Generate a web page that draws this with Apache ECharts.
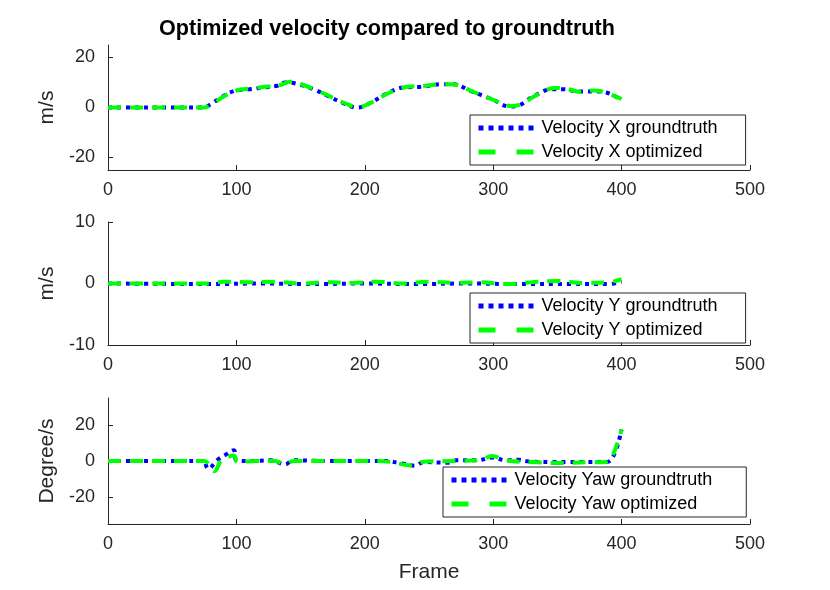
<!DOCTYPE html>
<html><head><meta charset="utf-8">
<script src="https://cdn.jsdelivr.net/npm/echarts@6/dist/echarts.min.js"></script>
<style>html,body{margin:0;padding:0;background:#fff}#c{width:830px;height:590px}</style>
</head><body><div id="c"></div>
<script>
// ---- data ----
var title = "Optimized velocity compared to groundtruth";
var xTicks = [0, 100, 200, 300, 400, 500];
var yTicks1 = [-20, 0, 20];
var yTicks2 = [-10, 0, 10];
var yTicks3 = [-20, 0, 20];

var vxGtFrames = [0, 20, 40, 60, 74, 80, 88, 99, 110, 121, 132, 138, 146, 160, 171, 182, 194, 205, 216, 230, 244, 260, 269, 282, 299, 313, 319, 332, 346, 355, 366, 380, 388, 399];
var vxGtValues = [0, 0, 0, 0, 0, 1.3, 4, 6.7, 7.3, 8, 8.7, 10, 9.6, 7.3, 4.7, 2, 0, 2, 5.3, 8, 8.3, 9.3, 9.3, 6.7, 3.3, 0.4, 0.7, 4.7, 7.3, 7.3, 6.4, 6.4, 6, 3.3];
var vxOptFrames = [0, 20, 40, 60, 75, 82, 90, 100, 112, 124, 134, 142, 150, 162, 173, 184, 195, 206, 218, 232, 246, 262, 270, 284, 300, 314, 320, 334, 348, 358, 368, 378, 386, 400];
var vxOptValues = [0, 0, 0, 0, 0, 1.6, 4.4, 6.8, 7.6, 8.4, 9, 10.3, 9.4, 7, 4.4, 1.8, 0.2, 2.2, 5.6, 8.2, 8.6, 9.4, 9.2, 6.4, 3.1, 0.6, 1, 5, 7.8, 7.4, 6.2, 6.8, 6.2, 3.4];

var vyGtFrames = [0, 40, 80, 120, 160, 200, 240, 280, 320, 360, 390, 400];
var vyGtValues = [0, -0.05, -0.1, 0, -0.1, 0, -0.1, 0, -0.1, -0.1, -0.1, 0.3];
var vyOptFrames = [0, 30, 60, 80, 90, 110, 130, 150, 170, 190, 210, 230, 250, 270, 290, 310, 330, 350, 370, 390, 400];
var vyOptValues = [0, 0, 0, 0, 0.3, 0.2, 0.3, 0, 0.2, 0.1, 0.3, 0, 0.3, 0.1, 0.2, -0.1, 0.2, 0.4, 0.1, 0.2, 0.7];

var vyawGtFrames = [0, 20, 40, 60, 74, 78, 85, 91, 98, 100, 110, 127, 138, 144, 170, 200, 216, 227, 239, 246, 266, 271, 288, 299, 310, 319, 327, 344, 388, 394, 400];
var vyawGtValues = [0, 0, 0, 0, 0, -4.3, 0.4, 3.2, 6, 0.4, 0, 0.4, -1.9, 0.4, 0, 0, 0, -1.1, -2.6, -0.6, -1, 0.4, 0.4, 1.9, 0.4, 0.7, -0.2, -0.6, -0.6, 3.2, 17.5];
var vyawOptFrames = [0, 20, 40, 60, 75, 79, 83, 88, 92, 98, 101, 115, 130, 137, 145, 170, 200, 220, 235, 248, 270, 290, 299, 310, 330, 350, 375, 388, 392, 400];
var vyawOptValues = [0, 0, 0, 0, 0, -2, -5.6, 0.4, 1.9, 3, -0.6, 0, 0, -1.5, 0, 0, 0, -0.5, -2.4, -0.3, 0, 0.5, 2.8, 0.3, -0.6, -1.1, -0.7, -0.5, 1.3, 17.5];

function pairs(f, v) { return f.map(function (x, i) { return [x, v[i]]; }); }

var FONT = "Liberation Sans";
var AX = "#262626";
var grids = [
  { left: 108, width: 642, top: 45, height: 125 },
  { left: 108, width: 642, top: 222, height: 123 },
  { left: 108, width: 642, top: 398, height: 126 }
];
var yRanges = [[-25, 25], [-10, 10], [-35, 35]];
var yTickSets = [yTicks1, yTicks2, yTicks3];
var yNames = ["m/s", "m/s", "Degree/s"];

function xAxis(i) {
  return {
    type: 'value', gridIndex: i, min: 0, max: 500, interval: 100,
    name: i === 2 ? 'Frame' : '', nameLocation: 'middle', nameGap: 38,
    nameTextStyle: { fontFamily: FONT, fontSize: 21, color: AX },
    axisLine: { show: true, onZero: false, lineStyle: { color: AX, width: 1 } },
    axisTick: { show: true, inside: true, length: 5, customValues: xTicks, lineStyle: { color: AX } },
    axisLabel: { fontFamily: FONT, fontSize: 18, color: AX, margin: 11, customValues: xTicks },
    splitLine: { show: false }
  };
}
function yAxis(i) {
  var r = yRanges[i];
  return {
    type: 'value', gridIndex: i, min: r[0], max: r[1],
    name: yNames[i], nameLocation: 'middle', nameRotate: 90, nameGap: 43,
    nameTextStyle: { fontFamily: FONT, fontSize: 21, color: AX },
    axisLine: { show: true, onZero: false, lineStyle: { color: AX, width: 1 } },
    axisTick: { show: true, inside: true, length: 5, customValues: yTickSets[i], lineStyle: { color: AX } },
    axisLabel: { fontFamily: FONT, fontSize: 18, color: AX, margin: 13, customValues: yTickSets[i] },
    splitLine: { show: false }
  };
}
function gtSeries(name, i, f, v) {
  return {
    name: name, type: 'line', xAxisIndex: i, yAxisIndex: i, data: pairs(f, v),
    smooth: 0.4, showSymbol: false, symbol: 'none',
    lineStyle: { color: '#0000ff', width: 4, type: [4, 5] },
    itemStyle: { color: '#0000ff' }, z: 2
  };
}
function optSeries(name, i, f, v) {
  return {
    name: name, type: 'line', xAxisIndex: i, yAxisIndex: i, data: pairs(f, v),
    smooth: 0.4, showSymbol: false, symbol: 'none',
    lineStyle: { color: '#00ff00', width: 4, type: [13, 9] },
    itemStyle: { color: '#00ff00' }, z: 3
  };
}
function legend(names, left, top, padRight) {
  return {
    data: [
      { name: names[0], lineStyle: { type: [5, 5], width: 5 } },
      { name: names[1], lineStyle: { type: [17, 21], width: 5 } }
    ],
    orient: 'vertical', left: left, top: top,
    padding: [4, padRight, 4, 6], itemGap: 6, itemWidth: 58, itemHeight: 16,
    borderColor: AX, borderWidth: 1, backgroundColor: '#fff',
    itemStyle: { opacity: 0 },
    textStyle: { fontFamily: FONT, fontSize: 18, color: '#000' },
    selectedMode: false
  };
}

var chart = echarts.init(document.getElementById('c'), null, { renderer: 'canvas' });
chart.setOption({
  animation: false,
  backgroundColor: '#fff',
  title: { text: title, left: 154, top: 13, textStyle: { fontFamily: FONT, fontSize: 21.6, fontWeight: 'bold', color: '#000' } },
  grid: grids,
  xAxis: [xAxis(0), xAxis(1), xAxis(2)],
  yAxis: [yAxis(0), yAxis(1), yAxis(2)],
  legend: [
    legend(['Velocity X groundtruth', 'Velocity X optimized'], 470, 115, 28),
    legend(['Velocity Y groundtruth', 'Velocity Y optimized'], 470, 293, 28),
    legend(['Velocity Yaw groundtruth', 'Velocity Yaw optimized'], 443, 467, 34)
  ],
  series: [
    gtSeries('Velocity X groundtruth', 0, vxGtFrames, vxGtValues),
    optSeries('Velocity X optimized', 0, vxOptFrames, vxOptValues),
    gtSeries('Velocity Y groundtruth', 1, vyGtFrames, vyGtValues),
    optSeries('Velocity Y optimized', 1, vyOptFrames, vyOptValues),
    gtSeries('Velocity Yaw groundtruth', 2, vyawGtFrames, vyawGtValues),
    optSeries('Velocity Yaw optimized', 2, vyawOptFrames, vyawOptValues)
  ]
});
</script></body></html>
